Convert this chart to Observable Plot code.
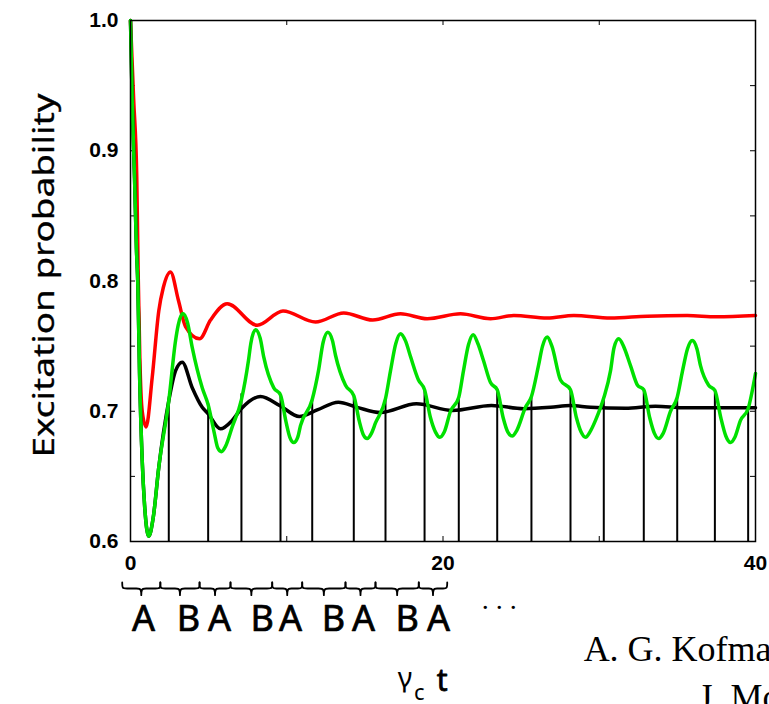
<!DOCTYPE html>
<html>
<head>
<meta charset="utf-8">
<script src="https://cdn.jsdelivr.net/npm/d3@7"></script>
<script src="https://cdn.jsdelivr.net/npm/@observablehq/plot@0.6"></script>
<style>
html, body { margin: 0; padding: 0; background: #fff; overflow: hidden; width: 769px; height: 704px; }
#chart { position: relative; width: 769px; height: 704px; overflow: hidden; }
</style>
</head>
<body>
<div id="chart"></div>
<script>
// ---------------- data ----------------
const xTickLabels = [0, 20, 40];
const xMinorTicks = [10, 20, 30];
const yTickLabels = [0.6, 0.7, 0.8, 0.9, 1.0];
const yMinorTicks = [0.65, 0.7, 0.75, 0.8, 0.85, 0.9, 0.95];

const redT = [0, 0.2, 0.4, 0.5, 0.6, 0.75, 1.0, 1.39, 1.81, 2.1, 2.56, 3.07, 3.52, 4.42, 5.12, 6.19, 8.11, 9.76, 11.84, 13.65, 15.5, 17.28, 18.99, 21.12, 23.04, 24.53, 26.67, 28.37, 30.72, 33.07, 35.63, 37.5, 40];
const redP = [1.0, 0.94, 0.88, 0.80, 0.74, 0.70, 0.688, 0.726, 0.777, 0.795, 0.807, 0.785, 0.765, 0.7556, 0.770, 0.7825, 0.766, 0.777, 0.7685, 0.7755, 0.770, 0.7748, 0.771, 0.7748, 0.771, 0.7735, 0.7715, 0.7735, 0.7715, 0.773, 0.7735, 0.7725, 0.7735];

const blackT = [0, 0.11, 0.26, 0.38, 0.47, 0.58, 0.75, 0.9, 1.17, 1.45, 1.81, 2.45, 2.88, 3.31, 3.95, 4.59, 4.97, 5.76, 6.51, 7.10, 8.32, 9.6, 10.8, 11.95, 13.3, 14.51, 16.0, 18.3, 20.6, 23.1, 25.17, 26.88, 28.16, 29.44, 31.68, 33.6, 35.5, 40];
const blackP = [1.0, 0.937, 0.879, 0.825, 0.797, 0.729, 0.662, 0.628, 0.604, 0.618, 0.657, 0.708, 0.731, 0.7377, 0.718, 0.703, 0.698, 0.6865, 0.693, 0.702, 0.7113, 0.704, 0.696, 0.701, 0.707, 0.703, 0.699, 0.7057, 0.7006, 0.7044, 0.702, 0.703, 0.7044, 0.703, 0.7023, 0.7039, 0.7026, 0.7026];

const greenT = [0, 0.11, 0.26, 0.38, 0.47, 0.58, 0.75, 0.9, 1.17, 1.45, 1.81, 2.45, 2.88, 3.05, 3.35, 3.65, 3.95, 4.59, 4.97,
  5.35, 5.58, 5.82, 6.08, 6.51, 7.10, 7.55, 7.7, 8.0, 8.3, 8.53, 9.17, 9.6,
  9.95, 10.2, 10.45, 10.7, 10.88, 11.63, 12.03, 12.33, 12.63, 12.93, 13.12, 13.76, 14.29,
  14.65, 14.9, 15.15, 15.42, 15.68, 16.32, 16.64, 16.98, 17.28, 17.6, 17.92, 18.43, 18.82,
  19.2, 19.52, 19.8, 20.08, 20.48, 21.01, 21.31, 21.63, 21.93, 22.23, 22.59, 23.04, 23.47,
  23.85, 24.15, 24.43, 24.71, 25.28, 25.66, 26.11, 26.37, 26.67, 26.97, 27.52, 28.16,
  28.54, 28.84, 29.12, 29.4, 29.76, 30.29, 30.72, 30.95, 31.25, 31.55, 32.0, 32.45, 32.85,
  33.23, 33.53, 33.81, 34.09, 34.56, 34.99, 35.33, 35.65, 35.95, 36.25, 36.48, 37.0, 37.4,
  37.78, 38.1, 38.4, 38.68, 39.04, 39.53, 40];
const greenP = [1.0, 0.937, 0.879, 0.825, 0.797, 0.729, 0.662, 0.628, 0.604, 0.618, 0.657, 0.708, 0.754, 0.766, 0.775, 0.768, 0.749, 0.718, 0.705,
  0.684, 0.672, 0.669, 0.673, 0.688, 0.709, 0.739, 0.752, 0.7625, 0.756, 0.7415, 0.718, 0.7125,
  0.692, 0.680, 0.676, 0.680, 0.689, 0.709, 0.731, 0.753, 0.7607, 0.754, 0.743, 0.72, 0.712,
  0.692, 0.682, 0.679, 0.683, 0.691, 0.7096, 0.731, 0.752, 0.7595, 0.754, 0.742, 0.724, 0.7165,
  0.695, 0.684, 0.680, 0.684, 0.70, 0.7108, 0.731, 0.751, 0.7587, 0.752, 0.739, 0.722, 0.7165,
  0.695, 0.684, 0.681, 0.685, 0.703, 0.7113, 0.735, 0.750, 0.757, 0.750, 0.724, 0.7165,
  0.695, 0.684, 0.680, 0.684, 0.693, 0.7103, 0.731, 0.749, 0.7556, 0.750, 0.735, 0.72, 0.7165,
  0.695, 0.683, 0.679, 0.683, 0.70, 0.7108, 0.731, 0.748, 0.7543, 0.748, 0.735, 0.72, 0.716,
  0.695, 0.681, 0.676, 0.680, 0.693, 0.7021, 0.729];

// switching times (vertical lines) and the level each line reaches
const switchTimes = [2.45, 4.97, 7.10, 9.60, 11.63, 14.29, 16.32, 18.82, 21.01, 23.47, 25.66, 28.16, 30.29, 32.85, 34.99, 37.40, 39.53];
const switchTops  = [0.708, 0.7057, 0.7134, 0.7129, 0.7088, 0.7121, 0.7096, 0.7165, 0.7108, 0.7165, 0.7113, 0.7165, 0.7103, 0.7165, 0.7108, 0.716, 0.7021];

// braces under the axis and their letters
const braceEdges = [-0.53, 1.91, 4.42, 6.40, 9.07, 10.99, 13.76, 15.68, 18.45, 20.27];
const braceLetters = ["A", "B", "A", "B", "A", "B", "A", "B", "A"];
const letterX = [0.83, 3.71, 5.70, 8.43, 10.24, 12.99, 14.91, 17.71, 19.71];

const yLabel = "Excitation probability";

// ---------------- layout ----------------
const W = 769, H = 704, ML = 130, MR = 14, MT = 20, MB = 163;
const pxPerUnitY = (H - MB - MT) / 0.4;
const yBelow = px => 0.6 - px / pxPerUnitY; // px below the frame bottom, in y units
const comic = "'Comic Sans MS', 'Noto Sans', sans-serif";
const serif = "'Liberation Serif', 'Times New Roman', serif";

const series = (T, P) => T.map((t, i) => ({t, p: P[i]}));

// brace polylines (smoothed with basis curve)
const braceTop = yBelow(41), braceBar = yBelow(47), braceTip = yBelow(57);
const braces = [];
for (let i = 0; i < braceLetters.length; i++) {
  const x0 = braceEdges[i], x1 = braceEdges[i + 1], xm = (x0 + x1) / 2, d = 0.22;
  const pts = [[x0, braceTop], [x0, braceBar], [x0 + d, braceBar], [xm - d, braceBar], [xm, braceBar], [xm, braceTip],
               [xm, braceBar], [xm + d, braceBar], [x1 - d, braceBar], [x1, braceBar], [x1, braceTop]];
  pts.forEach(([x, y]) => braces.push({id: i, x, y}));
}

const innerW = W - ML - MR, innerH = H - MT - MB;

const plot = Plot.plot({
  width: W, height: H,
  marginLeft: ML, marginRight: MR, marginTop: MT, marginBottom: MB,
  x: {domain: [0, 40]},
  y: {domain: [0.6, 1.0]},
  style: {background: "white", fontFamily: "'Liberation Sans', Arial, sans-serif", overflow: "visible"},
  marks: [
    // inner ticks
    Plot.tickY(yMinorTicks, {y: d => d, insetRight: innerW - 5, stroke: "black", strokeWidth: 1}),
    Plot.tickY(yMinorTicks, {y: d => d, insetLeft: innerW - 5, stroke: "black", strokeWidth: 1}),
    Plot.tickX(xMinorTicks, {x: d => d, insetBottom: innerH - 5, stroke: "black", strokeWidth: 1}),
    Plot.tickX(xMinorTicks, {x: d => d, insetTop: innerH - 5, stroke: "black", strokeWidth: 1}),
    Plot.axisY(yTickLabels, {tickSize: 0, tickPadding: 12, tickFormat: d3.format(".1f"), fontSize: 21, fontWeight: "bold", label: null}),
    Plot.axisX(xTickLabels, {tickSize: 0, tickPadding: 14, tickFormat: d3.format("d"), fontSize: 21, fontWeight: "bold", label: null}),
    // switching lines
    Plot.ruleX(switchTimes, {x: d => d, y1: 0.6, y2: (d, i) => switchTops[i], stroke: "black", strokeWidth: 2}),
    // curves
    Plot.line(series(redT, redP), {x: "t", y: "p", stroke: "#ff0000", strokeWidth: 3.5, curve: "monotone-x"}),
    Plot.line(series(blackT, blackP), {x: "t", y: "p", stroke: "#000000", strokeWidth: 3.5, curve: "monotone-x"}),
    Plot.line(series(greenT, greenP), {x: "t", y: "p", stroke: "#00e000", strokeWidth: 3.5, curve: "monotone-x"}),
    Plot.frame({stroke: "black", strokeWidth: 1.5}),
    // braces and letters
    Plot.line(braces, {x: "x", y: "y", z: "id", curve: "basis", stroke: "black", strokeWidth: 1.8}),
    Plot.text(braceLetters, {x: (d, i) => letterX[i], text: d => d, frameAnchor: "bottom", dy: 89, lineAnchor: "bottom", fontSize: 36, fontWeight: "normal", fontFamily: comic, fill: "black", stroke: "black", strokeWidth: 0.7}),
    Plot.text([". . ."], {x: [23.6], text: d => d, frameAnchor: "bottom", dy: 67, lineAnchor: "bottom", fontSize: 28, fontFamily: serif, fill: "black"}),
    // time axis label γc t
    Plot.text(["γ"], {x: [17.1], text: d => d, frameAnchor: "bottom", dy: 145, lineAnchor: "bottom", textAnchor: "start", fontSize: 28, fontFamily: comic, fill: "black"}),
    Plot.text(["c"], {x: [18.15], text: d => d, frameAnchor: "bottom", dy: 158, lineAnchor: "bottom", textAnchor: "start", fontSize: 22, fontFamily: comic, fill: "black"}),
    Plot.text(["t"], {x: [19.6], text: d => d, frameAnchor: "bottom", dy: 149, lineAnchor: "bottom", textAnchor: "start", fontSize: 30, fontFamily: comic, fill: "black", stroke: "black", strokeWidth: 0.8}),
    // citation (cut by the window edge)
    Plot.text(["A. G. Kofman"], {x: [29.0], text: d => d, frameAnchor: "bottom", dy: 119, lineAnchor: "bottom", textAnchor: "start", fontSize: 36, fontFamily: serif, fill: "black"}),
    Plot.text(["J. Mod. Opt."], {x: [36.35], text: d => d, frameAnchor: "bottom", dy: 167, lineAnchor: "bottom", textAnchor: "start", fontSize: 36, fontFamily: serif, fill: "black"}),
    // y label
    Plot.text([yLabel], {frameAnchor: "left", dx: -77, dy: -5.5, rotate: -90, textAnchor: "middle", lineAnchor: "bottom", text: d => d, fontSize: 29, fontWeight: "normal", fontFamily: comic, fill: "black", stroke: "black", strokeWidth: 0.3})
  ]
});

d3.select(plot).selectAll("text").filter(function() { return this.textContent === yLabel; })
  .attr("textLength", 364).attr("lengthAdjust", "spacingAndGlyphs");

document.getElementById("chart").appendChild(plot);
</script>
</body>
</html>
